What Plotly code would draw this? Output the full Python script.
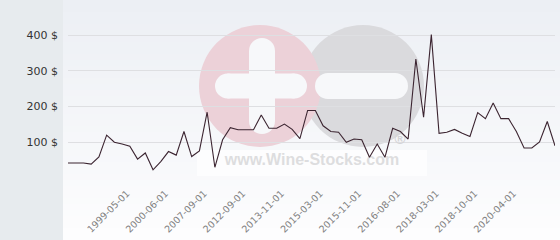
import plotly.graph_objects as go

# ---- data ----
prices = [42, 42, 42, 39, 59, 120, 100, 95, 89, 53,
          70, 23, 46, 74, 64, 130, 60, 76, 184, 30,
          107, 141, 135, 135, 135, 176, 139, 139, 151, 136,
          110, 189, 189, 146, 130, 128, 100, 109, 107, 58,
          95, 58, 139, 130, 109, 333, 170, 401, 125, 128,
          136, 125, 116, 183, 166, 210, 166, 166, 130, 84,
          84, 101, 158, 90]
tick_positions = [8, 13, 18, 23, 28, 33, 38, 43, 48, 53, 58]
tick_labels = ["1999-05-01", "2000-06-01", "2007-09-01", "2012-09-01", "2013-11-01",
               "2015-03-01", "2015-11-01", "2016-08-01", "2018-03-01", "2018-10-01",
               "2020-04-01"]
y_ticks = [100, 200, 300, 400]
y_tick_labels = [f"{v} $" for v in y_ticks]

W, H = 560, 240
ML, MR, MT, MB = 68, 5, 10, 62
PW, PH = W - ML - MR, H - MT - MB
YMAX = 470


def px(x):
    return (x - ML) / PW


def py(y):
    return (H - MB - y) / PH


shapes = []
# gradient background of the chart panel
n = 40
c_top = (236, 239, 244)
c_bot = (253, 253, 254)
for i in range(n):
    t = i / (n - 1)
    c = tuple(round(c_top[k] + (c_bot[k] - c_top[k]) * t) for k in range(3))
    y0 = H * i / n
    y1 = H * (i + 1) / n + 0.5
    shapes.append(dict(type="rect", xref="paper", yref="paper", layer="below",
                       x0=px(63), x1=px(W), y0=py(y1), y1=py(y0),
                       line=dict(width=0), fillcolor="rgb(%d,%d,%d)" % c))


def circle(cx, cy, r, color):
    shapes.append(dict(type="circle", xref="paper", yref="paper", layer="below",
                       x0=px(cx - r), x1=px(cx + r), y0=py(cy + r), y1=py(cy - r),
                       line=dict(width=0), fillcolor=color))


def rect(x0, y0, x1, y1, color):
    shapes.append(dict(type="rect", xref="paper", yref="paper", layer="below",
                       x0=px(x0), x1=px(x1), y0=py(y1), y1=py(y0),
                       line=dict(width=0), fillcolor=color))


def pill_h(x0, x1, yc, h, color):
    r = h / 2
    rect(x0 + r, yc - r, x1 - r, yc + r, color)
    circle(x0 + r, yc, r, color)
    circle(x1 - r, yc, r, color)


def pill_v(xc, y0, y1, w, color):
    r = w / 2
    rect(xc - r, y0 + r, xc + r, y1 - r, color)
    circle(xc, y0 + r, r, color)
    circle(xc, y1 - r, r, color)


# watermark logo
circle(363, 86, 61, "rgb(218,218,221)")
circle(260, 86, 61, "rgb(236,209,216)")
white = "rgb(247,248,250)"
pill_v(262, 38, 134, 26, white)
pill_h(215, 307, 86, 25, white)
pill_h(315, 408, 86, 26, white)
rect(197, 150, 427, 176, "rgba(255,255,255,0.7)")

fig = go.Figure()

# watermark text (decoration, positioned in pixels)
wx = (312 - ML) / PW * 63
wy = (H - MB - 161) / PH * YMAX
fig.add_trace(go.Scatter(x=[wx], y=[wy], mode="text", text=["www.Wine-Stocks.com"],
                         textfont=dict(family="Liberation Sans", size=16, color="rgb(221,221,223)",
                                       weight="bold"),
                         hoverinfo="skip", showlegend=False))
rx = (400 - ML) / PW * 63
ry = (H - MB - 140) / PH * YMAX
fig.add_trace(go.Scatter(x=[rx], y=[ry], mode="text", text=["®"],
                         textfont=dict(family="Liberation Sans", size=15, color="rgb(212,212,214)",
                                       weight="bold"),
                         hoverinfo="skip", showlegend=False))

fig.add_trace(go.Scatter(x=list(range(len(prices))), y=prices, mode="lines",
                         line=dict(color="#3b2430", width=1.1), showlegend=False))

fig.update_layout(
    width=W, height=H,
    margin=dict(l=ML, r=MR, t=MT, b=MB),
    paper_bgcolor="#e7ebee",
    plot_bgcolor="rgba(0,0,0,0)",
    shapes=shapes,
    showlegend=False,
    xaxis=dict(range=[0, 63], tickvals=tick_positions, ticktext=tick_labels,
               tickangle=-45, showgrid=False, zeroline=False, showline=False,
               tickfont=dict(family="DejaVu Sans", size=9.5, color="#808080"),
               ticks="", ticklabelstandoff=7, ticklabelshift=-3),
    yaxis=dict(range=[0, YMAX], tickvals=[0] + y_ticks, ticktext=[""] + y_tick_labels,
               showgrid=True, gridcolor="#dedfe2", gridwidth=1, zeroline=False,
               showline=False, ticks="", ticklabelstandoff=9,
               tickfont=dict(family="DejaVu Sans", size=11, color="#333333")),
)

fig.write_html("out.html")
